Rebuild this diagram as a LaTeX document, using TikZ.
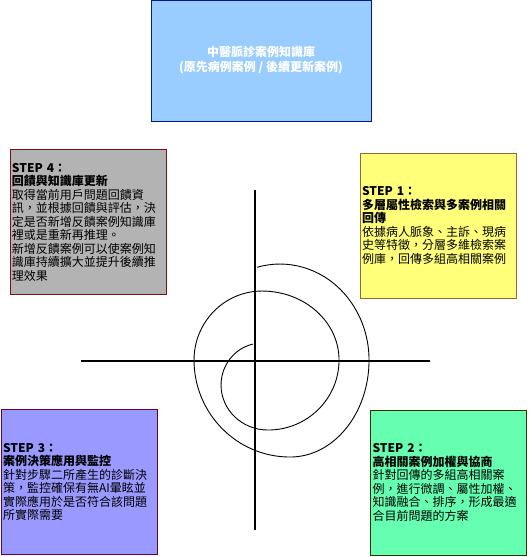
\documentclass[tikz,border=0pt]{standalone}
\usepackage{fontspec}
\setmainfont{Noto Sans CJK TC}
\usetikzlibrary{positioning}
\definecolor{kbfill}{HTML}{99CCFF}
\definecolor{kbline}{HTML}{001A80}
\definecolor{sfour}{HTML}{B3B3B3}
\definecolor{sfourline}{HTML}{7A1010}
\definecolor{sone}{HTML}{FFFF7A}
\definecolor{soneline}{HTML}{996633}
\definecolor{sthree}{HTML}{9999FF}
\definecolor{sthreeline}{HTML}{660033}
\definecolor{stwo}{HTML}{66FFB2}
\definecolor{stwoline}{HTML}{333300}
\tikzstyle{stepbox}=[rectangle,draw,line width=1pt,align=left,text width=152pt,inner xsep=2pt,minimum height=145pt,font=\fontsize{12}{13.5}\selectfont]
\tikzstyle{kbbox}=[rectangle,draw=kbline,fill=kbfill,line width=1pt,align=center,minimum width=220pt,minimum height=121pt,text=white,font=\fontsize{12}{15}\selectfont\bfseries]
\tikzstyle{axis}=[line width=1.2pt]
\tikzstyle{spiral}=[line width=0.9pt]

\begin{document}
\begin{tikzpicture}[x=1pt,y=-1pt]
\useasboundingbox (0,0) rectangle (531,557);
\node[kbbox] (KB) at (261,60.5) {中醫脈診案例知識庫\\(原先病例案例 / 後續更新案例)};
\node[stepbox,draw=sfourline,fill=sfour] (S4) at (88,222) {\textbf{STEP 4：}\\\textbf{回饋與知識庫更新}\\取得當前用戶問題回饋資\\訊，並根據回饋與評估，決\\定是否新增反饋案例知識庫\\裡或是重新再推理。\\新增反饋案例可以使案例知\\識庫持續擴大並提升後續推\\理效果};
\node[stepbox,draw=soneline,fill=sone] (S1) at (438,225.5) {\textbf{STEP 1：}\\\textbf{多層屬性檢索與多案例相關}\\\textbf{回傳}\\依據病人脈象、主訴、現病\\史等特徵，分層多維檢索案\\例庫，回傳多組高相關案例};
\node[stepbox,draw=sthreeline,fill=sthree] (S3) at (79,482) {\textbf{STEP 3：}\\\textbf{案例決策應用與監控}\\針對步驟二所產生的診斷決\\策，監控確保有無AI暈眩並\\實際應用於是否符合該問題\\所實際需要};
\node[stepbox,draw=stwoline,fill=stwo] (S2) at (448.5,482.5) {\textbf{STEP 2：}\\\textbf{高相關案例加權與協商}\\針對回傳的多組高相關案\\例，進行微調、屬性加權、\\知識融合、排序，形成最適\\合目前問題的方案};
% axes
\coordinate (axL) at (81,361);
\coordinate (axR) at (430,361);
\coordinate (axT) at (255,190);
\coordinate (axB) at (255,530);
\draw[axis] (axL)--(axR);
\draw[axis] (axT)--(axB);
% spiral
\coordinate (spS) at (257,267.3);
\draw[spiral] (spS) arc[start angle=105,end angle=0,x radius=89pt,y radius=96pt]
  arc[start angle=0,end angle=-90,x radius=79pt,y radius=97pt]
  arc[start angle=-90,end angle=-180,x radius=96pt,y radius=97pt]
  arc[start angle=-180,end angle=-270,x radius=68pt,y radius=69pt]
  arc[start angle=-270,end angle=-360,x radius=77pt,y radius=69pt]
  arc[start angle=0,end angle=-90,x radius=71pt,y radius=70pt]
  arc[start angle=-90,end angle=-180,x radius=47pt,y radius=45pt]
  arc[start angle=-180,end angle=-257,x radius=41pt,y radius=42pt];
\end{tikzpicture}
\end{document}
